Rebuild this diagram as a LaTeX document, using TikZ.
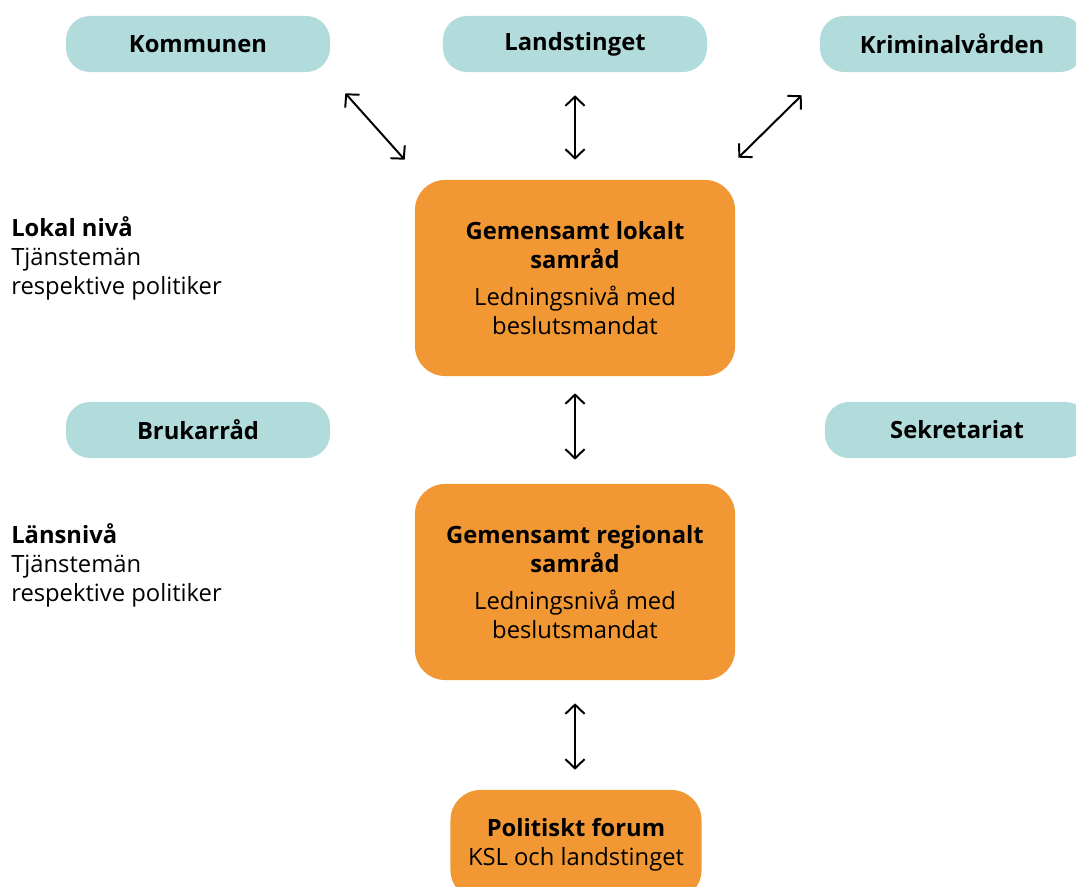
\documentclass[tikz,border=0pt]{standalone}
\usepackage{fontspec}
\setmainfont{Open Sans}
\usetikzlibrary{arrows.meta,positioning}
\definecolor{samorange}{HTML}{F19834}
\definecolor{samteal}{HTML}{B2DCDC}
\newcommand{\samfont}{\fontsize{16.9}{20.6}\selectfont}
\tikzset{
    pill/.style={fill=samteal,rounded corners=0.6cm,minimum width=6.6cm,minimum height=1.4cm,font=\samfont\bfseries},
    samrad/.style={fill=samorange,rounded corners=0.75cm,minimum width=8cm,minimum height=4.9cm,align=center},
    dbl/.style={{Straight Barb[length=2.3mm,width=4.8mm]}-{Straight Barb[length=2.3mm,width=4.8mm]},line width=1.4pt},
    niva/.style={anchor=west,align=left,inner sep=0pt},
}

\begin{document}
\begin{tikzpicture}[x=0.025cm,y=-0.025cm,font=\samfont]
\useasboundingbox (0,0) rectangle (1076,886);
% top row
\node[pill] (kom) at (198,44) {Kommunen};
\node[pill] (lands) at (575,44) {Landstinget};
\node[pill] (krim) at (952,44) {Kriminalvården};
% local level
\node[samrad] (lokal) at (575,278) {\textbf{Gemensamt lokalt}\\\textbf{samråd}\\[6pt]Ledningsnivå med\\beslutsmandat};
\node[niva] (lokalniva) at (11,258) {\textbf{Lokal nivå}\\Tjänstemän\\respektive politiker};
\node[pill] (bruk) at (198,430) {Brukarråd};
\node[pill] (sekr) at (957,430) {Sekretariat};
% county level
\node[samrad] (region) at (575,582) {\textbf{Gemensamt regionalt}\\\textbf{samråd}\\[6pt]Ledningsnivå med\\beslutsmandat};
\node[niva] (lansniva) at (11,565) {\textbf{Länsnivå}\\Tjänstemän\\respektive politiker};
\node[samrad,minimum width=6.275cm,minimum height=2.75cm] (forum) at (576,845) {\textbf{Politiskt forum}\\KSL och landstinget};
% arrows
\draw[dbl] ([shift={(15,21)}]kom.south east) -- ([shift={(-10,-20)}]lokal.north west);
\draw[dbl] ([shift={(0,23)}]lands.south) -- ([shift={(0,-20)}]lokal.north);
\draw[dbl] ([shift={(-18,23)}]krim.south west) -- ([shift={(3,-22)}]lokal.north east);
\draw[dbl] ([shift={(0,17)}]lokal.south) -- ([shift={(0,-24)}]region.north);
\draw[dbl] ([shift={(0,23)}]region.south) -- ([shift={(-1,-20)}]forum.north);
%\draw[dbl] (bruk) -- (lokal);
\end{tikzpicture}
\end{document}
